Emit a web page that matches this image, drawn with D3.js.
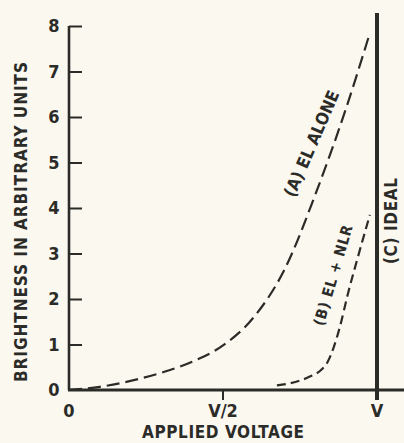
<!DOCTYPE html>
<html>
<head>
<meta charset="utf-8">
<script src="https://cdn.jsdelivr.net/npm/d3@7"></script>
<style>
  body { margin: 0; background: #fbf8f0; }
  svg text { font-family: "DejaVu Sans Condensed", "DejaVu Sans", sans-serif; font-weight: bold; fill: #2b2b28; }
</style>
</head>
<body>
<div id="chart"></div>
<script>
// brightness vs applied voltage (voltage as fraction of V)
var curveA = [[0,0],[0.1,0.07],[0.2,0.2],[0.3,0.38],[0.4,0.62],[0.5,0.98],[0.6,1.6],[0.7,2.65],[0.8,4.3],[0.9,6.2],[0.977,7.85]];
var curveB = [[0.675,0.1],[0.72,0.15],[0.78,0.29],[0.82,0.45],[0.84,0.62],[0.86,0.95],[0.88,1.4],[0.905,2.1],[0.935,2.85],[0.977,3.85]];
var idealV = 1;
var yTicks = [0,1,2,3,4,5,6,7,8];
var xTicks = [0, 0.5, 1];
var xTickLabels = ["0", "V/2", "V"];

var width = 404, height = 443;
var ink = "#2b2b28";

var svg = d3.select("#chart").append("svg")
    .attr("width", width)
    .attr("height", height);

var x = d3.scaleLinear().domain([0, 1]).range([69, 377]);
var y = d3.scaleLinear().domain([0, 8]).range([390, 26]);

// y axis, ticks pointing inward
var yAxis = svg.append("g")
    .attr("transform", "translate(" + x(0) + ",0)")
    .call(d3.axisRight(y).tickValues(yTicks).tickSize(13).tickFormat(""));
yAxis.select(".domain").attr("stroke", ink).attr("stroke-width", 2.6)
    .attr("d", "M0," + y(0) + "V" + y(8));
yAxis.selectAll(".tick line").attr("stroke", ink).attr("stroke-width", 2);
yAxis.selectAll(".tick").filter(function(d) { return d === 0; }).remove();

svg.selectAll(".ylab")
    .data(yTicks)
  .enter().append("text")
    .attr("class", "ylab")
    .attr("x", 54)
    .attr("y", function(d) { return y(d); })
    .attr("dy", "0.36em")
    .attr("text-anchor", "middle")
    .style("font-size", "18px")
    .text(function(d) { return d; });

// x axis
svg.append("line")
    .attr("x1", x(0) - 1).attr("x2", width)
    .attr("y1", y(0)).attr("y2", y(0))
    .attr("stroke", ink).attr("stroke-width", 3.2);

svg.selectAll(".xtick")
    .data(xTicks.slice(1))
  .enter().append("line")
    .attr("class", "xtick")
    .attr("x1", function(d) { return x(d); }).attr("x2", function(d) { return x(d); })
    .attr("y1", y(0)).attr("y2", y(0) + 10)
    .attr("stroke", ink).attr("stroke-width", 2);

svg.selectAll(".xlab")
    .data(xTicks)
  .enter().append("text")
    .attr("class", "xlab")
    .attr("x", function(d) { return x(d); })
    .attr("y", 417)
    .attr("text-anchor", "middle")
    .style("font-size", "18px")
    .text(function(d, i) { return xTickLabels[i]; });

svg.append("text")
    .attr("x", 223).attr("y", 438)
    .attr("text-anchor", "middle")
    .style("font-size", "17px")
    .attr("textLength", 162)
    .text("APPLIED VOLTAGE");

svg.append("text")
    .attr("transform", "translate(27,222) rotate(-90)")
    .attr("text-anchor", "middle")
    .style("font-size", "17px")
    .attr("textLength", 320)
    .text("BRIGHTNESS IN ARBITRARY UNITS");

// curves
var line = d3.line()
    .x(function(d) { return x(d[0]); })
    .y(function(d) { return y(d[1]); })
    .curve(d3.curveMonotoneX);

svg.append("path")
    .datum(curveA)
    .attr("d", line)
    .attr("fill", "none")
    .attr("stroke", ink)
    .attr("stroke-width", 2.2)
    .attr("stroke-dasharray", "13,6");

svg.append("path")
    .datum(curveB)
    .attr("d", line)
    .attr("fill", "none")
    .attr("stroke", ink)
    .attr("stroke-width", 2.2)
    .attr("stroke-dasharray", "9,5");

// ideal
svg.append("line")
    .attr("x1", x(idealV)).attr("x2", x(idealV))
    .attr("y1", 13).attr("y2", y(0) + 10)
    .attr("stroke", ink).attr("stroke-width", 4);

// curve labels
svg.append("text")
    .attr("transform", "translate(317,146) rotate(-66.5)")
    .attr("text-anchor", "middle")
    .style("font-size", "17px")
    .attr("textLength", 114)
    .text("(A) EL ALONE");

svg.append("text")
    .attr("transform", "translate(338,277) rotate(-73.5)")
    .attr("text-anchor", "middle")
    .style("font-size", "15px")
    .attr("textLength", 104)
    .text("(B) EL + NLR");

svg.append("text")
    .attr("transform", "translate(397,221) rotate(-90)")
    .attr("text-anchor", "middle")
    .style("font-size", "17px")
    .attr("textLength", 86)
    .text("(C) IDEAL");
</script>
</body>
</html>
